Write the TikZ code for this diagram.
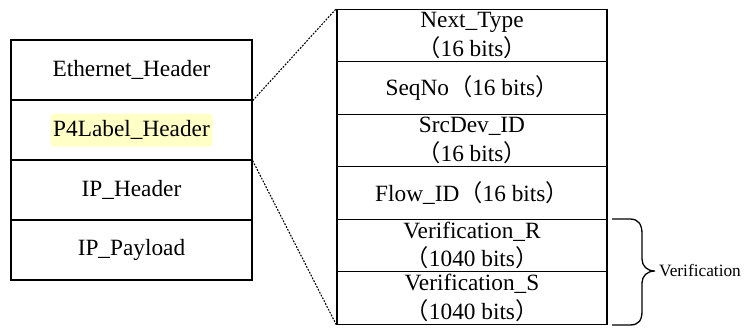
\documentclass[tikz,border=0pt]{standalone}
\usepackage{fontspec}
\setmainfont{Liberation Serif}
\newfontfamily\cjkfont{Noto Sans CJK SC}
\newcommand{\lpar}{{\cjkfont （}}
\newcommand{\rpar}{{\cjkfont ）}}
\definecolor{hlyellow}{HTML}{FFFFC6}
\begin{document}
\begin{tikzpicture}[x=1pt,y=-1pt,
  field/.style={draw=black, line width=1.3pt, rectangle, inner sep=0pt,
    align=center, font=\fontsize{23.3}{28.5}\selectfont},
  lrow/.style={field, minimum width=241pt, minimum height=60pt},
  rrow/.style={field, minimum width=270pt, minimum height=52.5pt},
  hl/.style={fill=hlyellow, rounded corners=3pt, inner sep=0pt,
    minimum width=162pt, minimum height=33pt, font=\fontsize{23.3}{28.5}\selectfont},
  zoomline/.style={line width=1.1pt, dash pattern=on 1.8pt off 1.4pt},
  bracepath/.style={line width=1.3pt},
  small/.style={font=\fontsize{17.3}{20}\selectfont, inner sep=0pt}
]
\useasboundingbox (0,0) rectangle (744,327);

% packet layout
\node[lrow] (l1) at (131.5,70) {Ethernet\_Header};
\node[lrow] (l2) at (131.5,130) {};
\node[hl] (p4) at (l2) {P4Label\_Header};
\node[lrow] (l3) at (131.5,190) {IP\_Header};
\node[lrow] (l4) at (131.5,250) {IP\_Payload};

% P4Label header fields
\node[rrow] (r1) at (472,35.5) {Next\_Type\\\lpar 16 bits\rpar};
\node[rrow] (r2) at (472,88) {SeqNo\lpar 16 bits\rpar};
\node[rrow] (r3) at (472,140.5) {SrcDev\_ID\\\lpar 16 bits\rpar};
\node[rrow] (r4) at (472,193) {Flow\_ID\lpar 16 bits\rpar};
\node[rrow] (r5) at (472,245.5) {Verification\_R\\\lpar 1040 bits\rpar};
\node[rrow] (r6) at (472,298) {Verification\_S\\\lpar 1040 bits\rpar};

% expansion lines
\draw[zoomline] (l1.south east) -- (r1.north west);
\draw[zoomline] (l2.south east) -- (r6.south west);

% brace over the verification fields
\coordinate (bt) at (612,219);
\coordinate (bb) at (612,325);
\coordinate (tip) at (655,271);
\draw[bracepath] (bt) -- (630,219) .. controls (639,219) and (642,225) .. (642,234)
  -- (642,259) .. controls (642,266) and (647,271) .. (tip)
  .. controls (647,271) and (642,276) .. (642,283)
  -- (642,311) .. controls (642,320) and (639,325) .. (630,325) -- (bb);
\node[small, anchor=west] (ver) at (659,271) {Verification};
\end{tikzpicture}
\end{document}
